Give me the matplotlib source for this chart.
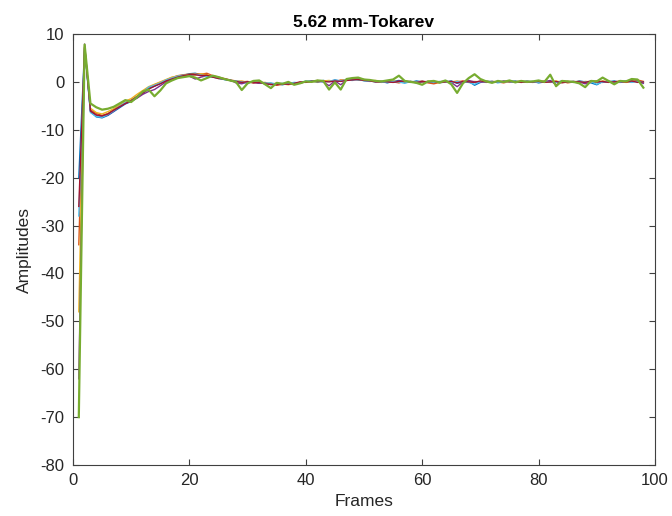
import matplotlib
matplotlib.use("Agg")
import matplotlib.pyplot as plt
import numpy as np

plt.rcParams['font.family'] = ['Liberation Sans', 'DejaVu Sans']
plt.rcParams['axes.unicode_minus'] = False

frames = np.arange(1, 99)

blue = [-20, 7.2, -6.2, -7.3, -7.5, -7.0, -6.2, -5.4, -4.6, -4.1,
        -3.3, -2.4, -1.4, -0.9, -0.3, 0.3, 0.7, 1.1, 1.4, 1.7,
        1.8, 1.5, 1.3, 1.0, 0.8, 0.5, 0.3, 0.1, -0.1, -0.2,
        0.1, -0.3, -0.2, -0.5, -0.4, -0.6, -0.3, -0.5, -0.2, 0.0,
        0.2, -0.1, 0.3, 0.1, 0.4, 0.2, 0.5, 0.6, 0.4, 0.3,
        0.2, 0.0, 0.1, -0.2, 0.1, 0.3, 0.0, -0.1, 0.2, 0.0,
        -0.1, 0.1, -0.2, 0.0, 0.2, -0.3, 0.0, 0.1, -0.7, -0.1,
        0.2, 0.0, -0.1, 0.1, 0.0, 0.2, -0.1, 0.0, 0.1, -0.2,
        0.0, 0.2, -0.1, 0.1, 0.0, -0.1, 0.2, 0.0, -0.2, -0.6,
        0.1, 0.0, 0.2, -0.1, 0.1, 0.3, 0.0, -0.2]

orange = [-34, 7.4, -5.8, -6.6, -7.0, -6.6, -5.8, -5.0, -4.4, -3.8,
          -3.0, -2.0, -1.2, -0.6, -0.1, 0.4, 0.9, 1.3, 1.5, 1.6,
          1.7, 1.6, 1.8, 1.3, 1.0, 0.7, 0.4, 0.2, 0.0, 0.1,
          -0.2, 0.0, -0.4, -0.3, -0.7, -0.5, -0.4, -0.2, -0.3, 0.1,
          0.0, 0.3, 0.1, 0.2, 0.0, 0.4, 0.3, 0.5, 0.7, 0.5,
          0.3, 0.1, -0.1, 0.2, 0.0, -0.2, 0.1, 0.0, -0.1, 0.2,
          -0.2, -0.4, -0.1, 0.1, -0.1, 0.0, 0.2, -0.1, 0.0, 0.1,
          -0.1, 0.1, 0.0, -0.2, 0.1, 0.0, 0.2, -0.1, 0.0, 0.1,
          0.2, -0.1, 0.0, 0.1, -0.2, 0.0, 0.1, -0.1, 0.0, 0.2,
          -0.1, 0.1, 0.0, 0.2, -0.1, 0.0, 0.4, 0.1]

yellow = [-48, 7.6, -5.5, -6.4, -6.7, -6.2, -5.6, -4.8, -4.0, -3.5,
          -2.6, -1.8, -1.0, -0.5, 0.0, 0.5, 1.0, 1.2, 1.3, 1.5,
          1.4, 1.7, 1.5, 1.2, 0.9, 0.6, 0.3, 0.1, 0.2, -0.1,
          0.0, -0.2, -0.1, -0.4, -0.3, -0.4, -0.6, -0.3, -0.1, 0.0,
          0.1, 0.0, 0.2, 0.3, 0.1, 0.3, 0.4, 0.6, 0.5, 0.4,
          0.2, 0.3, 0.0, 0.1, 0.2, 0.0, -0.1, 0.1, 0.0, -0.1,
          0.1, 0.0, -0.2, 0.1, 0.0, 0.2, -0.1, 0.0, 0.1, 0.0,
          0.2, -0.1, 0.1, 0.0, -0.1, 0.1, 0.0, 0.2, -0.1, 0.0,
          0.1, 0.0, 0.2, -0.1, 0.1, 0.0, -0.2, 0.1, 0.0, -0.1,
          0.2, 0.0, -0.1, 0.1, 0.0, 0.2, 0.1, -0.1]

purple = [-62, 7.9, -6.0, -7.0, -7.3, -6.9, -6.1, -5.2, -4.5, -4.0,
          -3.4, -2.6, -2.0, -1.6, -0.8, 0.0, 0.5, 0.9, 1.1, 1.2,
          0.6, 1.0, 1.3, 1.1, 0.9, 0.6, 0.4, -0.2, -0.4, 0.0,
          -0.1, -0.3, -0.2, -0.6, -0.4, -0.5, -0.3, -0.4, -0.1, 0.0,
          0.2, 0.1, 0.0, -0.8, 0.2, -0.6, 0.4, 0.5, 0.6, 0.4,
          0.2, 0.1, 0.0, 0.1, -0.1, 0.2, 0.0, 0.1, -0.2, 0.0,
          0.1, -0.1, 0.0, 0.2, -0.1, -1.0, 0.0, 0.3, 0.0, -0.1,
          0.0, 0.1, -0.1, 0.2, 0.0, -0.1, 0.1, 0.0, -0.1, 0.1,
          0.0, 0.3, -0.6, 0.0, 0.1, -0.1, 0.0, -0.4, 0.1, 0.0,
          -0.1, 0.1, 0.0, -0.1, 0.2, 0.0, 0.2, -0.3]

green = [-70, 7.8, -4.5, -5.3, -5.8, -5.6, -5.2, -4.5, -3.8, -4.2,
         -3.2, -2.0, -1.6, -3.0, -1.8, -0.3, 0.3, 0.8, 1.0, 1.2,
         0.9, 0.3, 0.8, 1.3, 1.0, 0.6, 0.3, 0.0, -1.7, -0.3,
         0.2, 0.3, -0.5, -1.3, -0.2, -0.4, 0.0, -0.6, -0.3, 0.1,
         0.0, 0.3, 0.2, -1.6, -0.1, -1.6, 0.6, 0.8, 0.9, 0.5,
         0.4, 0.2, 0.1, 0.3, 0.5, 1.3, 0.2, 0.0, -0.2, -0.6,
         0.1, 0.2, -0.1, 0.3, -0.5, -2.3, -0.3, 0.8, 1.6, 0.6,
         0.1, -0.2, 0.2, 0.0, 0.3, -0.1, 0.2, 0.0, 0.1, 0.3,
         0.0, 1.5, -0.9, 0.2, 0.1, 0.0, -0.3, -1.1, 0.2, 0.1,
         0.9, 0.2, -0.5, 0.2, 0.1, 0.6, 0.5, -1.2]

lightblue = [-28, 7.0, -6.4, -7.2, -7.4, -6.8, -6.0, -5.1, -4.3, -3.9,
             -3.1, -2.2, -1.1, -0.7, -0.2, 0.4, 0.8, 1.2, 1.4, 1.3,
             1.6, 1.4, 1.2, 1.1, 0.7, 0.5, 0.3, 0.2, 0.0, -0.2,
             0.1, -0.1, -0.3, -0.2, -0.5, -0.3, -0.4, -0.1, -0.2, 0.2,
             0.1, 0.2, 0.0, 0.1, 0.3, 0.2, 0.4, 0.3, 0.6, 0.2,
             0.1, 0.2, 0.0, -0.1, 0.1, 0.0, -0.3, 0.1, 0.0, 0.1,
             0.0, -0.1, 0.1, 0.0, -0.2, 0.1, 0.0, -0.1, -0.5, 0.1,
             0.0, 0.1, -0.2, 0.0, 0.1, -0.1, 0.0, 0.2, 0.0, -0.1,
             0.1, 0.0, -0.1, 0.2, 0.0, 0.1, -0.1, 0.0, 0.1, -0.5,
             0.0, 0.1, -0.1, 0.0, 0.2, -0.1, 0.1, 0.0]

darkred = [-26, 7.3, -6.1, -6.9, -7.1, -6.7, -5.9, -5.2, -4.5, -3.9,
           -3.1, -2.3, -1.5, -0.9, -0.4, 0.2, 0.6, 1.0, 1.3, 1.5,
           1.5, 1.3, 1.4, 1.0, 0.7, 0.6, 0.3, 0.1, -0.1, 0.0,
           -0.2, -0.1, -0.4, -0.5, -0.6, -0.4, -0.5, -0.3, 0.0, -0.1,
           0.1, 0.2, 0.1, 0.0, 0.2, 0.1, 0.3, 0.4, 0.5, 0.3,
           0.2, 0.0, 0.1, 0.0, -0.1, 0.1, 0.2, 0.0, -0.1, 0.1,
           0.0, 0.1, -0.1, 0.0, 0.1, -0.2, 0.1, 0.0, -0.1, 0.2,
           0.0, -0.1, 0.1, 0.0, 0.2, 0.0, -0.1, 0.1, 0.0, 0.1,
           -0.1, 0.0, 0.1, -0.2, 0.0, 0.1, 0.0, -0.1, 0.2, 0.0,
           0.1, -0.1, 0.0, 0.1, 0.0, 0.2, -0.1, 0.0]

series = [blue, orange, yellow, purple, lightblue, darkred, green]
colors = ['#0072BD', '#D95319', '#EDB120', '#7E2F8E', '#4DBEEE', '#A2142F', '#77AC30']
widths = [1.0, 1.0, 1.0, 1.0, 1.0, 1.0, 1.6]

fig = plt.figure(figsize=(6.72, 5.16), dpi=100)
ax = fig.add_axes([0.1086, 0.0988, 0.8661, 0.8353])

for y, c, w in zip(series, colors, widths):
    ax.plot(frames, y, color=c, lw=w)

ax.set_xlim(0, 100)
ax.set_ylim(-80, 10)
ax.set_xticks(range(0, 101, 20))
ax.set_yticks(range(-80, 11, 10))
ax.tick_params(direction='in', length=4, width=0.8, colors='#404040',
               labelsize=12, top=True, right=True, labelcolor='#262626', pad=6)
for s in ax.spines.values():
    s.set_color('#404040')
    s.set_linewidth(0.8)

ax.set_title("5.62 mm-Tokarev", fontsize=12.5, fontweight='bold', pad=5, color='black')
ax.set_xlabel("Frames", fontsize=12.5, labelpad=4, color='#262626')
ax.set_ylabel("Amplitudes", fontsize=12.5, labelpad=6, color='#262626')

fig.savefig("out.png", dpi=100)
